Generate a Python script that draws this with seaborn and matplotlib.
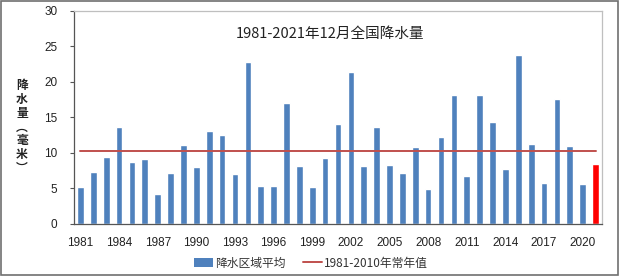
import numpy as np
import pandas as pd
import matplotlib
matplotlib.use("Agg")
import matplotlib.pyplot as plt
import seaborn as sns
from matplotlib.patches import Patch, Rectangle
from matplotlib.lines import Line2D

years = list(range(1981, 2022))
precip = [5.2, 7.3, 9.4, 13.7, 8.7, 9.1, 4.2, 7.2, 11.1, 8.0,
          13.1, 12.5, 7.1, 22.8, 5.35, 5.35, 17.0, 8.2, 5.25, 9.3,
          14.0, 21.4, 8.2, 13.6, 8.3, 7.2, 10.8, 4.9, 12.2, 18.2,
          6.8, 18.1, 14.3, 7.75, 23.8, 11.3, 5.7, 17.6, 11.0, 5.6,
          8.4]
normal_value = 10.3
title = "1981-2021年12月全国降水量"
ylabel_chars = ["降", "水", "量", "︵", "毫", "米", "︶"]
legend_labels = ["降水区域平均", "1981-2010年常年值"]
yticks = [0, 5, 10, 15, 20, 25, 30]

blue = "#4F81BD"
hi = "#FF0000"
red_line = "#C0504D"

sns.set_theme(style="white")
plt.rcParams['font.family'] = ['Noto Sans CJK SC', 'DejaVu Sans']

fig = plt.figure(figsize=(6.19, 2.76), dpi=100)
ax = fig.add_axes([74/619, 1-224/276, 528/619, 213.3/276])

df = pd.DataFrame({"year": [str(y) for y in years], "precip": precip})
colors = [blue] * (len(years) - 1) + [hi]
sns.barplot(data=df, x="year", y="precip", hue="year", palette=colors,
            legend=False, width=0.52, ax=ax, saturation=1)

n = len(years)
ax.plot(np.arange(n), [normal_value] * n, color=red_line, lw=1.4)

ax.set_ylim(0, 30)
ax.set_xlim(-0.5, n - 0.5)
ax.set_yticks(yticks)
ax.set_yticklabels([str(t) for t in yticks], fontsize=8.5, color="#222222",
                   family="Liberation Sans")
pos = np.arange(0, n, 3)
ax.set_xticks(pos)
ax.set_xticklabels([str(years[i]) for i in pos], fontsize=8.5, color="#222222",
                   family="Liberation Sans")
ax.set_xticks(np.arange(-0.5, n, 1), minor=True)
ax.tick_params(axis="x", which="major", length=0, pad=9)
ax.tick_params(axis="x", which="minor", length=3, direction="in", color="#555555", width=0.8)
ax.tick_params(axis="y", which="major", length=3, direction="out", color="#555555", width=0.8, left=True, pad=9)
ax.set_xlabel("")
ax.set_ylabel("")

for s in ["top", "right"]:
    ax.spines[s].set_color("#BFBFBF")
    ax.spines[s].set_linewidth(0.9)
for s in ["left", "bottom"]:
    ax.spines[s].set_color("#555555")
    ax.spines[s].set_linewidth(0.9)

ax.text(0.485, 0.89, title, transform=ax.transAxes, ha="center", va="center",
        fontsize=10.5, color="#222222")

fig.text(22/619, 1-127/276, "\n".join(ylabel_chars), ha="center", va="center",
         fontsize=8.5, fontweight="bold", linespacing=1.08, color="#222222")

handles = [Patch(facecolor=blue, edgecolor="none"),
           Line2D([0], [0], color=red_line, lw=1.4)]
fig.legend(handles, legend_labels, loc="center", bbox_to_anchor=(311/619, 1-263/276),
           ncol=2, frameon=False, fontsize=8.5, handlelength=1.6, handletextpad=0.2,
           columnspacing=1.5, labelcolor="#333333")

fig.add_artist(Rectangle((0.001, 0.002), 0.997, 0.995, transform=fig.transFigure,
                         fill=False, edgecolor="#707070", lw=1.2))

fig.savefig("out.png", dpi=100)
